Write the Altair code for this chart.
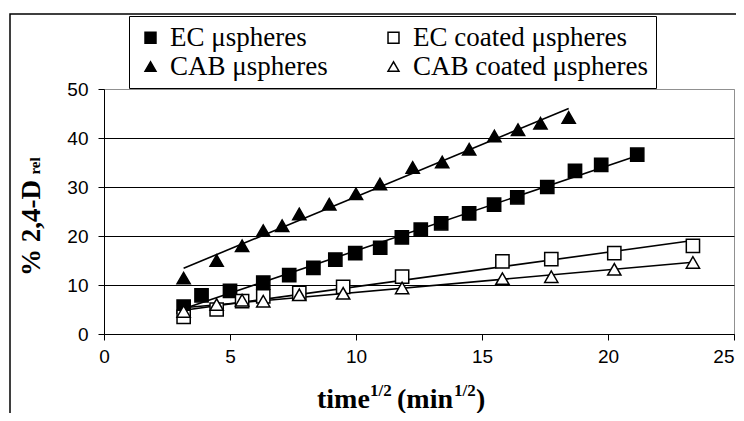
import altair as alt
import pandas as pd

# ---- data ----
names = ["EC μspheres", "CAB μspheres", "EC coated μspheres", "CAB coated μspheres"]

ec_x = [3.16, 3.87, 5.0, 6.32, 7.35, 8.31, 9.18, 9.97, 10.96, 11.82, 12.57, 13.38,
        14.49, 15.48, 16.40, 17.59, 18.69, 19.73, 21.16]
ec_y = [5.6, 7.9, 8.8, 10.5, 12.0, 13.5, 15.2, 16.5, 17.6, 19.7, 21.3, 22.6,
        24.6, 26.4, 27.9, 30.0, 33.3, 34.5, 36.6]

cab_x = [3.16, 4.47, 5.48, 6.32, 7.07, 7.75, 8.94, 10.0, 10.95, 12.25, 13.42, 14.49,
         15.49, 16.43, 17.32, 18.44]
cab_y = [11.4, 15.0, 18.0, 21.1, 22.1, 24.5, 26.5, 28.6, 30.6, 34.0, 35.1, 37.7,
         40.4, 41.7, 43.0, 44.2]

ecc_x = [3.16, 4.47, 5.48, 6.32, 7.75, 9.49, 11.83, 15.81, 17.75, 20.25, 23.37]
ecc_y = [3.5, 5.0, 6.7, 7.7, 8.4, 9.6, 11.7, 14.8, 15.3, 16.5, 18.0]

cabc_x = [3.16, 4.47, 5.48, 6.32, 7.75, 9.49, 11.83, 15.81, 17.75, 20.25, 23.37]
cabc_y = [4.6, 6.0, 6.9, 6.7, 8.0, 8.3, 9.4, 11.3, 11.7, 13.2, 14.6]

x_ticks = [0, 5, 10, 15, 20, 25]
y_ticks = [0, 10, 20, 30, 40, 50]

rows = []
for nm, xs_, ys_ in [(names[0], ec_x, ec_y), (names[2], ecc_x, ecc_y),
                     (names[1], cab_x, cab_y), (names[3], cabc_x, cabc_y)]:
    for a, b in zip(xs_, ys_):
        rows.append({"series": nm, "t": a, "r": b})
df = pd.DataFrame(rows)

shapes = ["square", "triangle-up", "square", "triangle-up"]
fills = ["black", "black", "white", "white"]

SERIF = "Liberation Serif"
SANS = "Liberation Sans"

x_enc = alt.X("t:Q", scale=alt.Scale(domain=[0, 25], nice=False, zero=False),
              axis=alt.Axis(values=x_ticks, grid=False, title=None, tickSize=6,
                            labelFont=SANS, labelFontSize=19, labelColor="black",
                            labelPadding=7, domainColor="black", tickColor="black",
                            labelAlign={"condition": {"test": "datum.value >= 25", "value": "right"},
                                        "value": "center"},
                            labelFlush=False, labelOverlap=False))
y_enc = alt.Y("r:Q", scale=alt.Scale(domain=[0, 50], nice=False, zero=False),
              axis=alt.Axis(values=y_ticks, grid=True, title=None, tickSize=6,
                            labelFont=SANS, labelFontSize=19, labelColor="black",
                            labelPadding=10, domainColor="black", tickColor="black",
                            gridColor={"condition": {"test": "datum.value >= 50", "value": "#909090"},
                                       "value": "black"},
                            gridWidth=1, labelFlush=False))

leg = alt.Legend(orient="none", legendX=25, legendY=-73, columns=2, title=None,
                 labelFont=SERIF, labelFontSize=27, labelColor="black", labelLimit=500,
                 symbolSize=120, symbolStrokeColor="black", symbolStrokeWidth=1.5,
                 strokeColor="black", fillColor="white", padding=8, rowPadding=1,
                 columnPadding=52, labelOffset=6, symbolOpacity=1)

base = alt.Chart(df)

lines = base.transform_regression("t", "r", groupby=["series"]).mark_line(
    color="black", strokeWidth=1.6
).encode(x=x_enc, y=y_enc, detail="series:N")

points = base.mark_point(filled=True, size=175, strokeWidth=1.5, opacity=1).encode(
    x=x_enc, y=y_enc,
    shape=alt.Shape("series:N", scale=alt.Scale(domain=names, range=shapes), legend=leg),
    fill=alt.Fill("series:N", scale=alt.Scale(domain=names, range=fills), legend=leg),
    stroke=alt.Stroke("series:N", scale=alt.Scale(domain=names, range=["black"] * 4), legend=leg),
)

one = alt.Data(values=[{"k": 1}])

border = alt.Chart(one).mark_rect(fillOpacity=0, stroke="black", strokeWidth=1.5).encode(
    x=alt.value(-94), x2=alt.value(660), y=alt.value(-75), y2=alt.value(360)
)

def txt(s, x, y, size, angle=0, align="left"):
    return alt.Chart(one).mark_text(
        font=SERIF, fontWeight="bold", fontSize=size, color="black",
        align=align, baseline="alphabetic", angle=angle
    ).encode(x=alt.value(x), y=alt.value(y), text=alt.value(s))

title_y = 319
xt = [
    txt("time", 213, title_y, 28),
    txt("1/2", 266, title_y - 12, 17),
    txt("(min", 293, title_y, 28),
    txt("1/2", 350, title_y - 12, 17),
    txt(")", 372, title_y, 28),
]
yt = [
    txt("% 2,4-D", -64, 139, 27, angle=270, align="center"),
    txt("rel", -64, 77, 15, angle=270, align="center"),
]

chart = alt.layer(border, lines, points, *xt, *yt).properties(
    width=630, height=245,
    autosize=alt.AutoSizeParams(type="none"),
    padding={"left": 96, "top": 81, "right": 2, "bottom": 79},
    background="white",
).configure_view(stroke="#909090", strokeWidth=1)

chart.save("out.html", embed_options={"renderer": "svg", "actions": False})
